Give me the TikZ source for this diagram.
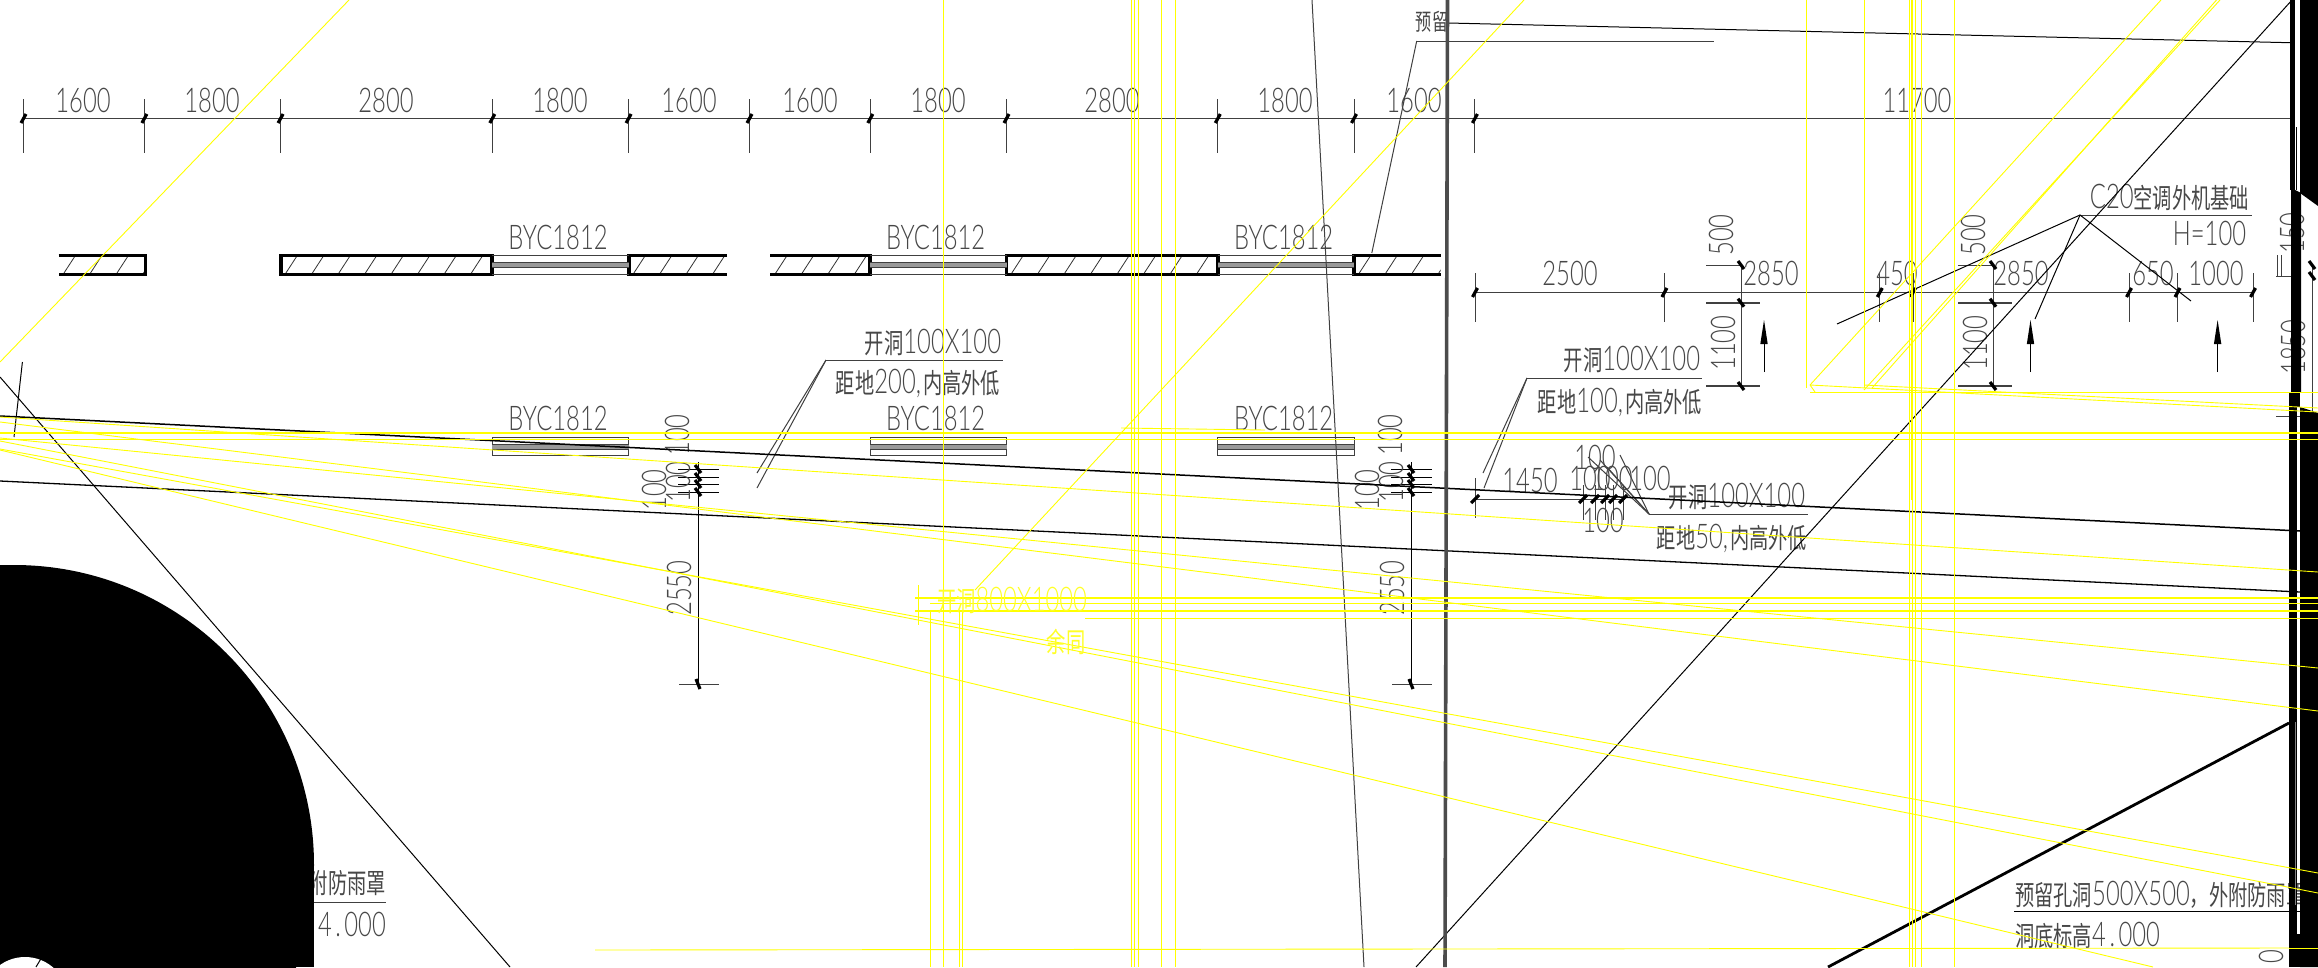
\documentclass[tikz,border=0pt]{standalone}
\usepackage{graphicx}
\usepackage{fontspec}
\setmainfont{Lato Light}
\newfontfamily\cjkfont{Noto Sans CJK SC}
\definecolor{txtc}{gray}{0.28}
\definecolor{dimc}{gray}{0.25}
\definecolor{yl}{RGB}{255,255,0}
\newcommand{\tx}[1]{\scalebox{.70}[1]{\fontsize{34}{34}\selectfont #1}}
\newcommand{\cj}[1]{{\cjkfont\fontsize{27.5}{27.5}\selectfont #1}}
\newcommand{\cjs}[1]{{\cjkfont\fontsize{23}{23}\selectfont #1}}
\tikzset{
  lbl/.style={inner sep=0pt,text=txtc},
  dimline/.style={draw=dimc,line width=1pt},
  extline/.style={draw=dimc,line width=1pt},
  slash/.style={draw=black,line width=3.2pt},
  wallline/.style={draw=black,line width=3.8pt},
  hatchline/.style={draw=black!80,line width=.8pt},
  winline/.style={draw=dimc,line width=1pt},
  leader/.style={draw=dimc,line width=1pt},
  blk/.style={draw=black,line width=1pt},
  yth/.style={draw=yl,line width=.9pt},
  ytk/.style={draw=yl,line width=2pt},
  massfill/.style={fill=black,draw=none}
}
\begin{document}
\begin{tikzpicture}[x=1pt,y=-1pt]
\useasboundingbox (0,0) rectangle (2318,967);
\clip (0,0) rectangle (2318,967);
\fill[white] (0,0) rectangle (2318,967);

% top dimension chain
\draw[dimline] (23.5,118) -- (2290,118);
\foreach \x in {23.5,144.4,280.6,492.3,628.6,749.5,870.3,1006.5,1217.8,1354,1474.9}{
  \draw[extline] (\x,99) -- (\x,153);
  \draw[slash] (\x-2.5,123) -- (\x+2.5,114);
}
\foreach \x/\t [count=\i] in {83/1600,212/1800,386/2800,560/1800,689/1600,810/1600,938/1800,1112/2800,1285/1800,1414/1600,1917/11700}{
  \node[lbl] (top\i) at (\x,100) {\tx{\t}};
}

% walls row 1
\newcommand{\wallhatch}[2]{%
  \begin{scope}
  \clip (#1,255) rectangle (#2,275);
  \foreach \k in {0,...,9}{ \draw[hatchline] (#1+4+\k*26.5,275) -- (#1+17+\k*26.5,255); }
  \end{scope}
}
\wallhatch{58.7}{145.4}
\wallhatch{280.6}{492.3}
\wallhatch{628.6}{727}
\wallhatch{770.4}{870.3}
\wallhatch{1006.5}{1217.8}
\wallhatch{1354}{1440.7}
\draw[wallline] (58.7,255.5) -- (145.4,255.5) -- (145.4,274.5) -- (58.7,274.5);
\draw[wallline] (280.6,255.5) rectangle (492.3,274.5);
\draw[wallline] (727,255.5) -- (628.6,255.5) -- (628.6,274.5) -- (727,274.5);
\draw[wallline] (770.4,255.5) -- (870.3,255.5) -- (870.3,274.5) -- (770.4,274.5);
\draw[wallline] (1006.5,255.5) rectangle (1217.8,274.5);
\draw[wallline] (1440.7,255.5) -- (1354,255.5) -- (1354,274.5) -- (1440.7,274.5);

% windows
\foreach \a/\b in {492.3/628.6,870.3/1006.5,1217.8/1354}{
  \draw[winline] (\a,255.7) -- (\b,255.7);
  \draw[winline] (\a,274.3) -- (\b,274.3);
  \fill[gray!80!white] (\a,262.5) rectangle (\b,267.5);
  \draw[draw=dimc,line width=.7pt] (\a,262.5) -- (\b,262.5);
  \draw[draw=dimc,line width=.7pt] (\a,267.5) -- (\b,267.5);
  \draw[winline] (\a,437.3) rectangle (\b,455.7);
  \fill[gray!80!white] (\a,444.5) rectangle (\b,449.5);
  \draw[draw=dimc,line width=.7pt] (\a,444.5) -- (\b,444.5);
  \draw[draw=dimc,line width=.7pt] (\a,449.5) -- (\b,449.5);
}
\foreach \x [count=\i] in {558,935.6,1283.6}{
  \node[lbl] (wa\i) at (\x,237) {\tx{BYC1812}};
  \node[lbl] (wb\i) at (\x,418) {\tx{BYC1812}};
}

% second dimension chain
\draw[dimline] (1475,292) -- (2253,292);
\foreach \x in {1475,1664.4,1879.8,1913,2129,2177.5,2253}{
  \draw[extline] (\x,273) -- (\x,322);
  \draw[slash] (\x-2.5,297) -- (\x+2.5,288);
}
\foreach \x/\t [count=\i] in {1570/2500,1771/2850,1897/450,2021/2850,2153/650,2216/1000}{
  \node[lbl] (ch\i) at (\x,273) {\tx{\t}};
}

% vertical dims by foundations
\foreach \x/\m in {1741/a,1993/b}{
  \draw[dimline] (\x,265) -- (\x,386);
  \draw[extline] (\x-35,265) -- (\x+2,265);
  \draw[draw=dimc,line width=1.6pt] (\x-35,302.7) -- (\x+19,302.7);
  \draw[draw=dimc,line width=1.6pt] (\x-35,386) -- (\x+19,386);
  \foreach \y in {265,302.7,386}{ \draw[slash] (\x-3,\y-4) -- (\x+3,\y+4); }
  \node[lbl,rotate=90] (five\m) at (\x-20,235) {\tx{500}};
  \node[lbl,rotate=90] (elev\m) at (\x-18,343) {\tx{1100}};
}
\foreach \x in {1764,2030.5,2217.6}{
  \draw[blk] (\x,372) -- (\x,335);
  \fill[black] (\x,320) -- (\x+3.7,344) -- (\x-3.7,344) -- cycle;
}

% C20 annotation
\draw[leader] (2080,215) -- (2252,215);
\draw[blk] (1837,324) -- (2080,215) -- (2191,301);
\draw[blk] (2035,319) -- (2080,215);
\node[lbl] (c20) at (2169.5,197) {\tx{C20\cj{空调外机基础}}};
\node[lbl] (h100) at (2209.5,233) {\tx{H=100}};

% opening annotations
\draw[leader] (826,360) -- (1003,360);
\draw[leader] (826,360) -- (757,473);
\draw[leader] (826,360) -- (757,488);
\node[lbl] (o1) at (933,342) {\tx{\cj{开洞}100X100}};
\node[lbl] (o1b) at (918,383) {\tx{\cj{距地}200,\kern3pt\cj{内高外低}}};

\draw[leader] (1527,378) -- (1702,378);
\draw[leader] (1527,378) -- (1483,473);
\draw[leader] (1527,378) -- (1484,488);
\node[lbl] (o2) at (1632,359) {\tx{\cj{开洞}100X100}};
\node[lbl] (o2b) at (1620,402) {\tx{\cj{距地}100,\kern3pt\cj{内高外低}}};

\draw[leader] (1649,514) -- (1808,514);
\foreach \x/\y in {1588/457,1600/460,1607/467,1620/455}{ \draw[leader] (1649,514) -- (\x,\y); }
\node[lbl] (o3) at (1737,496) {\tx{\cj{开洞}100X100}};
\node[lbl] (o3b) at (1732,538) {\tx{\cj{距地}50,\kern3pt\cj{内高外低}}};

% third chain
\draw[dimline] (1475,499) -- (1625,499);
\draw[extline] (1475,478) -- (1475,518);
\draw[slash] (1471,503) -- (1479,495);
\foreach \x in {1583,1595,1605,1613,1623}{
  \draw[extline] (\x,485) -- (\x,520);
  \draw[slash] (\x-4,503) -- (\x+4,495);
}
\node[lbl] (n1450) at (1530,480) {\tx{1450}};
\node[lbl] (n1a) at (1595,457) {\tx{100}};
\node[lbl] (n1b) at (1590,478) {\tx{100}};
\node[lbl] (n1c) at (1612,478) {\tx{100}};
\node[lbl] (n1d) at (1650,478) {\tx{100}};
\node[lbl] (n1e) at (1603,520) {\tx{100}};

% vertical chains at x=698 and x=1411
\foreach \x/\m in {698/a,1411/b}{
  \draw[draw=black,line width=.8pt] (\x,462) -- (\x,684);
  \foreach \y in {469,477,484,492}{
    \draw[draw=black,line width=1pt] (\x-20,\y) -- (\x+21,\y);
    \draw[slash] (\x-3,\y-4) -- (\x+3,\y+4);
  }
  \draw[dimline] (\x-19,684) -- (\x+21,684);
  \draw[slash] (\x-2,679) -- (\x+2,689);
  \node[lbl,rotate=90] (v2550\m) at (\x-19,588) {\tx{2550}};
  \node[lbl,rotate=90] (v1\m) at (\x-21,435) {\tx{100}};
  \node[lbl,rotate=90] (v2\m) at (\x-20,482) {\tx{100}};
  \node[lbl,rotate=90] (v3\m) at (\x-44,490) {\tx{100}};
}

% reserved note
\draw[leader] (1416.7,41) -- (1714,41);
\draw[leader] (1416.7,41) -- (1371.8,253);
\node[lbl] (yl) at (1432,22) {\tx{\cjs{预留}}};
\draw[blk] (1448,23) -- (2290,42.7);

% rain hood notes
\node[lbl,anchor=east] (h1) at (386,883) {\tx{\cj{预留孔洞}500X500\cj{，外附防雨罩}}};
\draw[leader] (200,902) -- (386,902);
\node[lbl,anchor=east] (h2) at (386,925) {\tx{\cj{洞底标高}\kern12pt 4\kern5pt.\kern5pt000}};
\node[lbl,anchor=west] (h3) at (2015,895) {\tx{\cj{预留孔洞}500X500\cj{，外附防雨罩}}};
\draw[draw=black,line width=1pt] (2014,911) -- (2300,911);
\node[lbl,anchor=west] (h4) at (2015,935) {\tx{\cj{洞底标高}4\kern5pt.\kern5pt000}};

% right side dims behind wall
\node[lbl,rotate=90] (r150) at (2292,233) {\tx{150}};
\node[lbl,rotate=90] (r1850) at (2293,347) {\tx{1850}};
\node[lbl,rotate=90] (r0) at (2271,957) {\tx{0}};
\draw[dimline] (2277,255) -- (2277,277);
\draw[dimline] (2281,255) -- (2281,277);
\draw[dimline] (2276,276) -- (2300,276);
\draw[dimline] (2276,416) -- (2310,416);
\draw[dimline] (2312,266) -- (2312,412);
\draw[slash] (2309,261) -- (2315,269);
\draw[slash] (2309,272) -- (2315,280);

% long black lines
\draw[draw=black,line width=1.5pt] (0,416) -- (2300,531);
\draw[draw=black,line width=1.3pt] (0,481) -- (2300,592);
\draw[blk] (0,377) -- (510,967);
\draw[blk] (22.4,362) -- (14,437);
\draw[blk] (2292,0) -- (1416,967);
\draw[draw=black,line width=2.8pt] (2289,723) -- (1828,967);
\draw[draw=dimc,line width=1pt] (1312,0) -- (1364,967);
\draw[draw=gray!60!black,line width=3.6pt] (1447.5,0) -- (1445,967);

% black masses
\fill[massfill] (14,865) circle[radius=300pt];
\fill[massfill] (0,565) rectangle (14,967);
\fill[massfill] (14,865) rectangle (314,967);
\fill[white] (25,1000) circle[radius=43pt];
\draw[blk] (42,957) -- (36,967);
\fill[massfill] (2290,0) rectangle (2295,190);
\fill[massfill] (2300,0) -- (2318,0) -- (2318,206) -- (2300,193) -- cycle;
\draw[blk] (2296,127) -- (2296,190);
\fill[massfill] (2291,188) -- (2301,193) -- (2301,392) -- (2291,392) -- cycle;
\fill[massfill] (2289,392) rectangle (2297.3,967);
\fill[massfill] (2297,392) rectangle (2300,407);
\fill[massfill] (2297,934) rectangle (2300,967);
\fill[massfill] (2300,407) -- (2318,413) -- (2318,967) -- (2300,967) -- cycle;
\draw[draw=gray,line width=.7pt] (2295,722) -- (2295,905);

% yellow verticals
\foreach \x in {943,1131,1134,1138,1161.6,1175.4,1909,1912,1915,1921.5,1954}{
  \draw[yth] (\x,0) -- (\x,967);
}
\draw[ytk] (1912,0) -- (1912,500);
\foreach \x in {1806,1864}{ \draw[yth] (\x,0) -- (\x,388); }
\draw[yth] (930,610) -- (930,967);
\draw[yth] (959,612) -- (959,967);
\draw[yth] (962,612) -- (962,967);

% yellow horizontals
\draw[ytk] (0,433) -- (2318,433);
\draw[yth] (0,439) -- (2318,439);
\draw[ytk] (915,598) -- (2318,598);
\draw[yth] (930,603) -- (2318,603);
\draw[ytk] (915,611) -- (2318,611);
\draw[yth] (1085,618) -- (2318,618);
\draw[yth] (595,950) -- (2289,948);
\draw[yth] (2289,948) -- (2318,948);
\draw[yth] (1121,428) -- (1265,430);
\draw[yth] (1810,392) -- (2318,392);

% yellow slopes
\draw[yth] (0,417) -- (2318,572);
\draw[yth] (0,438) -- (2318,668);
\draw[yth] (0,422) -- (2318,711);
\draw[yth] (0,449) -- (2318,873);
\draw[yth] (0,441) -- (2318,893);
\draw[yth] (0,450) -- (2153,967);
\draw[yth] (349,0) -- (0,362);
\draw[yth] (1524,0) -- (975,590);
\draw[yth] (2161,0) -- (1810,385);
\draw[yth] (2216.5,0) -- (1872,388);
\draw[yth] (2220,0) -- (1864,390);
\draw[yth] (1810,385) -- (1815,392);
\draw[yth] (1810,385) -- (2318,412);
\draw[yth] (1864,385) -- (2318,408);
\draw[yth] (918,585) -- (918,625);

% yellow text
\node[inner sep=0pt,text=yl!85!white] (ytxt1) at (1012,600) {\tx{\cj{开洞}800X1000}};
\node[inner sep=0pt,text=yl!85!white] (ytxt2) at (1066,642) {\tx{\cj{余同}}};
\end{tikzpicture}
\end{document}
